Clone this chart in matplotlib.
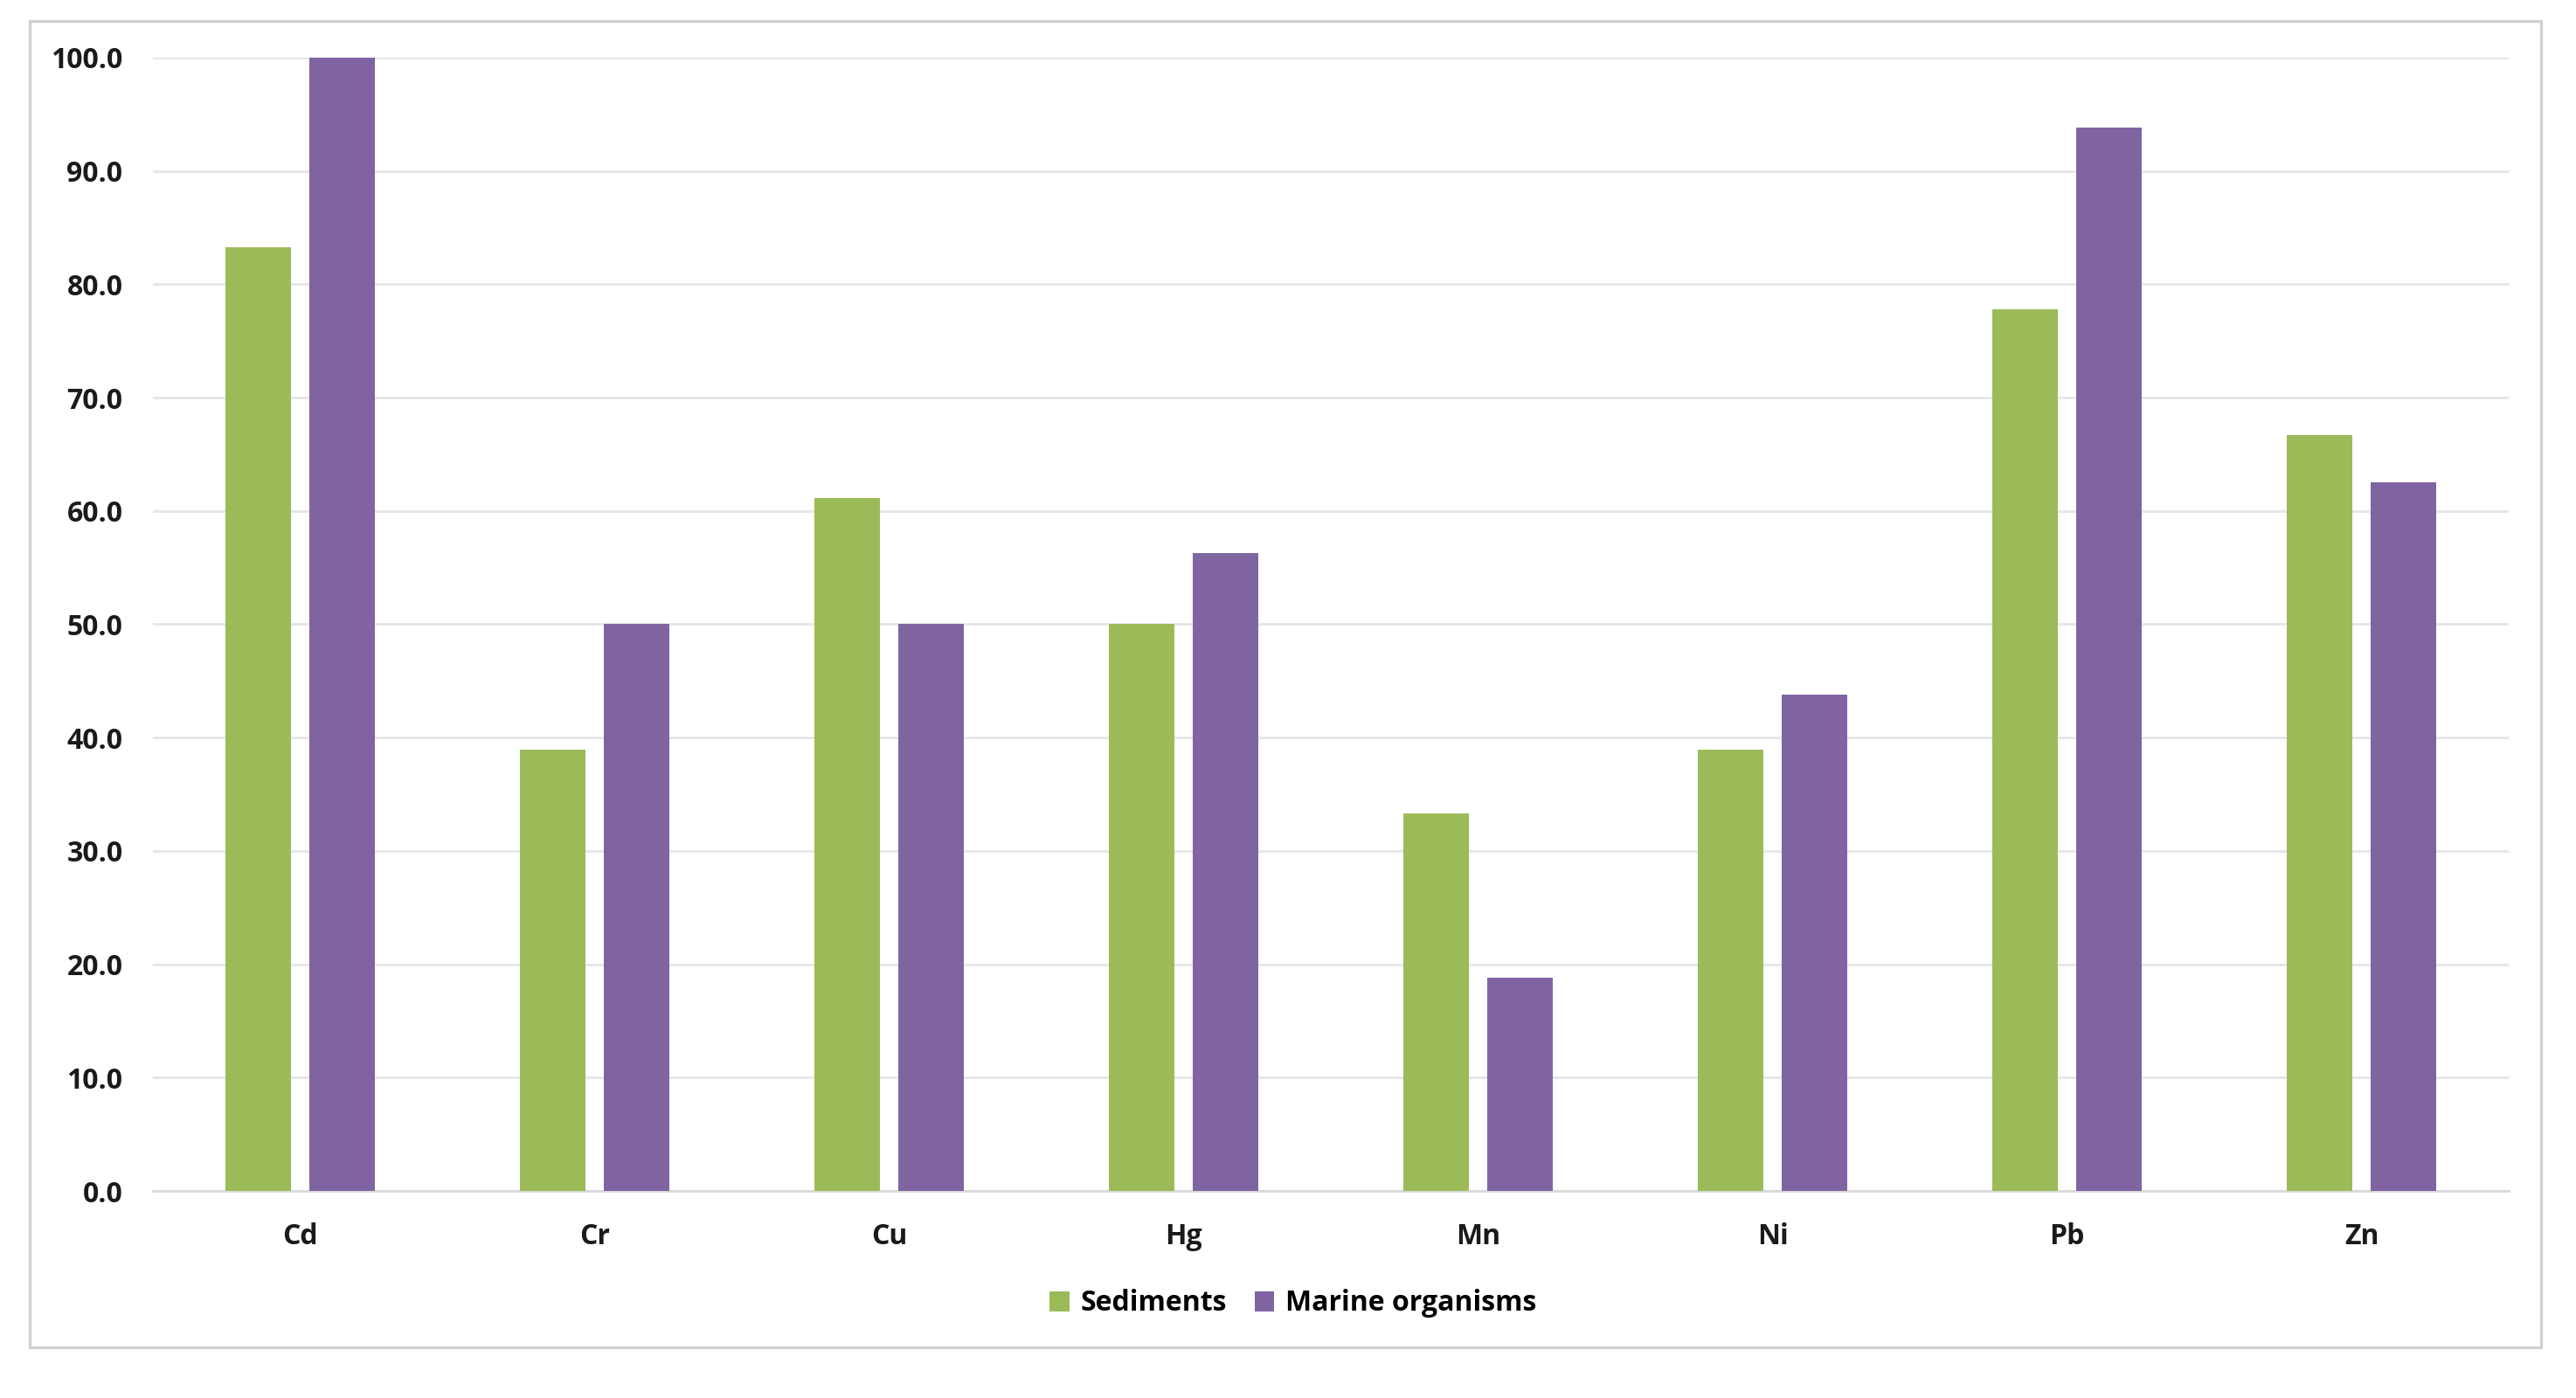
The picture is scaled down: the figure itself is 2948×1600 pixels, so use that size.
import matplotlib.pyplot as plt
import matplotlib.patches as patches
import numpy as np

plt.rcParams['font.family'] = ['Open Sans', 'DejaVu Sans']

# data
metals = ['Cd', 'Cr', 'Cu', 'Hg', 'Mn', 'Ni', 'Pb', 'Zn']
sediments = [83.3, 38.9, 61.1, 50.0, 33.3, 38.9, 77.8, 66.7]
marine = [100.0, 50.0, 50.0, 56.3, 18.8, 43.8, 93.8, 62.5]
yticks = [0, 10, 20, 30, 40, 50, 60, 70, 80, 90, 100]

green = '#9BBB59'
purple = '#8064A2'

fig = plt.figure(figsize=(14.74, 8.0), dpi=200)
ax = fig.add_axes([0.0594, 0.1481, 0.9145, 0.8107])

x = np.arange(len(metals))
w = 0.223
off = 0.143
ax.bar(x - off, sediments, w, color=green, label='Sediments', zorder=3)
ax.bar(x + off, marine, w, color=purple, label='Marine organisms', zorder=3)

ax.set_xlim(-0.5, len(metals) - 0.5)
ax.set_ylim(0, 100)
ax.set_yticks(yticks)
ax.set_yticklabels([f'{v:.1f}' for v in yticks])
ax.set_xticks(x)
ax.set_xticklabels(metals)
ax.grid(axis='y', color='#e6e6e6', linewidth=1.0, zorder=0)
ax.set_axisbelow(True)
for s in ['top', 'right', 'left']:
    ax.spines[s].set_visible(False)
ax.spines['bottom'].set_color('#d9d9d9')
ax.spines['bottom'].set_linewidth(1.0)
ax.tick_params(length=0, labelsize=11.5)
ax.tick_params(axis='y', pad=12.5)
ax.tick_params(axis='x', pad=13)
for lab in ax.get_xticklabels() + ax.get_yticklabels():
    lab.set_fontweight('bold')
    lab.set_color('#1a1a1a')

fig.legend(loc='center', bbox_to_anchor=(0.502, 0.0675), ncol=2, frameon=False,
           prop={'weight': 'bold', 'size': 11.5}, handlelength=0.7, handleheight=0.7,
           handletextpad=0.4, columnspacing=1.0)

# outer chart border
border = patches.Rectangle((34 / 2948, 1 - 1542 / 1600), (2908 - 34) / 2948, (1542 - 24) / 1600,
                           transform=fig.transFigure, fill=False, edgecolor='#d0d0d0', linewidth=1.2)
fig.patches.append(border)

plt.savefig('out.png', dpi=200)
